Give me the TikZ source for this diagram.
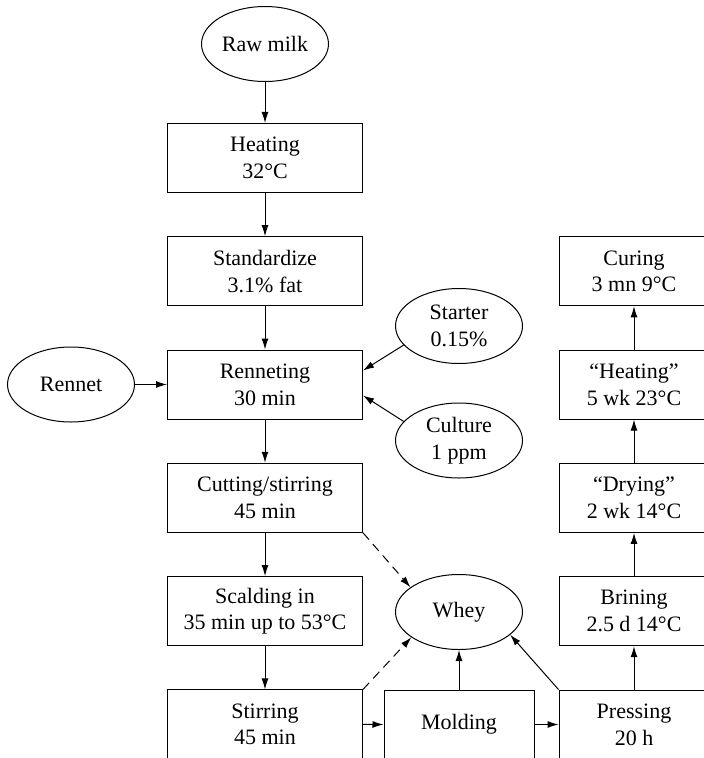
\documentclass[tikz,border=0pt]{standalone}
\usepackage{fontspec}
\setmainfont{Liberation Serif}
\usetikzlibrary{arrows.meta,positioning,calc,shapes.geometric}

\tikzset{
  procbox/.style={draw,line width=1pt,minimum width=195pt,minimum height=69pt,inner sep=0pt,align=center},
  narrowbox/.style={procbox,minimum width=150pt},
  inbox/.style={draw,ellipse,line width=1pt,minimum width=127pt,minimum height=75pt,inner sep=0pt,align=center},
  flow/.style={line width=1pt,-{Latex[length=11pt,width=7pt]}},
  drain/.style={flow,dash pattern=on 9pt off 6pt},
}

\begin{document}
\begin{tikzpicture}[x=1pt,y=-1pt,font=\fontsize{22}{26.7}\selectfont]
  \useasboundingbox (0,0) rectangle (704,758);
  % main line, top to bottom
  \node[inbox] (raw) at (265,44) {Raw milk};
  \foreach \nm/\txt [count=\i] in {
      heat/{Heating\\32°C},
      std/{Standardize\\3.1\% fat},
      ren/{Renneting\\30 min},
      cut/{Cutting/stirring\\45 min},
      scald/{Scalding in\\35 min up to 53°C},
      stir/{Stirring\\45 min}} {
    \node[procbox] (\nm) at (265,44.6+113.3*\i) {\txt};
  }
  % ripening line, bottom to top
  \foreach \nm/\txt [count=\i] in {
      press/{Pressing\\20 h},
      brine/{Brining\\2.5 d 14°C},
      dry/{“Drying”\\2 wk 14°C},
      heatb/{“Heating”\\5 wk 23°C},
      cure/{Curing\\3 mn 9°C}} {
    \node[narrowbox] (\nm) at (634,837.8-113.3*\i) {\txt};
  }
  \node[narrowbox] (mold) at (459,724.5) {Molding};
  % additions and whey
  \node[inbox] (rennet) at (71,384.5) {Rennet};
  \node[inbox] (starter) at (459,326) {Starter\\0.15\%};
  \node[inbox] (culture) at (459,440.5) {Culture\\1 ppm};
  \node[inbox] (whey) at (459,612) {Whey};

  \foreach \a/\b in {raw/heat,heat/std,std/ren,ren/cut,cut/scald,scald/stir,
      press/brine,brine/dry,dry/heatb,heatb/cure}
    \draw[flow] (\a) -- (\b);
  \draw[flow] (rennet) -- (ren);
  \draw[flow] (starter.199) -- ($(ren.east)+(0,-14)$);
  \draw[flow] (culture.161) -- ($(ren.east)+(0,11)$);
  \draw[flow] (stir.east) -- (mold.west);
  \draw[flow] (mold.east) -- (press.west);
  \draw[drain] (cut.south east) -- (whey.153);
  \draw[drain] (stir.north east) -- (whey.208);
  \draw[flow] (mold) -- (whey);
  \draw[flow] (press.north west) -- (whey.336);
\end{tikzpicture}
\end{document}
